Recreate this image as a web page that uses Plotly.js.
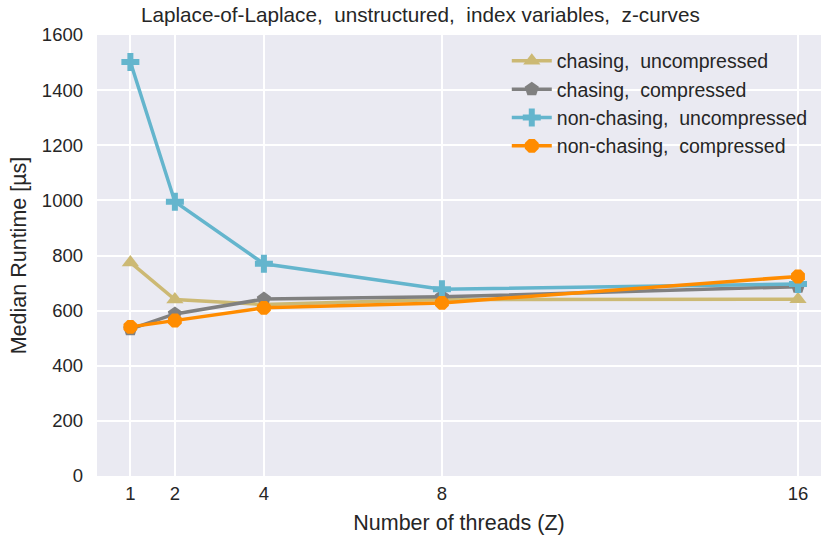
<!DOCTYPE html>
<html><head><meta charset="utf-8">
<script src="https://cdn.plot.ly/plotly-3.0.1.min.js"></script>
<style>html,body{margin:0;padding:0;background:#fff}#chart{width:821px;height:541px}</style>
</head><body><div id="chart"></div>
<script>
const threads = [1, 2, 4, 8, 16];
const chasingUncompressed = [775, 640, 622, 640, 641];
const chasingCompressed = [533, 588, 642, 650, 687];
const nonChasingUncompressed = [1502, 995, 770, 678, 697];
const nonChasingCompressed = [541, 564, 610, 628, 724];
const seriesNames = ['chasing,  uncompressed', 'chasing,  compressed', 'non-chasing,  uncompressed', 'non-chasing,  compressed'];
const tickLabels = ['1', '2', '4', '8', '16'];

const colors = ['#CCB974', '#808080', '#64B5CD', '#FF8C00'];
const symbols = ['triangle-up', 'pentagon', 'cross', 'octagon'];
const data = [chasingUncompressed, chasingCompressed, nonChasingUncompressed, nonChasingCompressed];

const traces = data.map((ys, i) => ({
  x: threads, y: ys, name: seriesNames[i], type: 'scatter', mode: 'lines+markers',
  legendgroup: 'g' + i,
  line: {color: colors[i], width: 3.5},
  marker: {color: colors[i], symbol: symbols[i], size: 15, line: {width: 0}}
}));

const font = {family: 'Liberation Sans, Arial, sans-serif', color: '#262626'};
const layout = {
  width: 821, height: 541,
  margin: {l: 97, r: 0, t: 35, b: 65},
  paper_bgcolor: '#ffffff', plot_bgcolor: '#EAEAF2',
  font: Object.assign({size: 19}, font),
  title: {text: 'Laplace-of-Laplace,  unstructured,  index variables,  z-curves',
          font: Object.assign({}, font, {size: 20.7}), xref: 'container', x: 0.512, xanchor: 'center',
          yref: 'container', y: 0.972, yanchor: 'middle'},
  xaxis: {range: [0.25, 16.517], tickvals: threads, ticktext: tickLabels,
          showgrid: true, gridcolor: '#ffffff', gridwidth: 2, zeroline: false, showline: false,
          ticks: '', ticklen: 0, tickfont: {size: 18.5}, automargin: false, ticklabelstandoff: 4,
          title: {text: 'Number of threads (Z)', font: {size: 21.5}, standoff: 12}},
  yaxis: {range: [0, 1600], tickvals: [0, 200, 400, 600, 800, 1000, 1200, 1400, 1600],
          showgrid: true, gridcolor: '#ffffff', gridwidth: 2, zeroline: false, showline: false,
          ticks: '', tickfont: {size: 18.5}, automargin: false, ticklabelstandoff: 13,
          title: {text: 'Median Runtime [µs]', font: {size: 21.5}, standoff: 9}},
  legend: {x: 0.566, y: 0.985, xanchor: 'left', yanchor: 'top', bgcolor: 'rgba(0,0,0,0)',
           borderwidth: 0, font: {size: 19.5}, tracegroupgap: 0, itemwidth: 40},
  showlegend: true
};
Plotly.newPlot('chart', traces, layout, {displayModeBar: false, staticPlot: true});
</script></body></html>
